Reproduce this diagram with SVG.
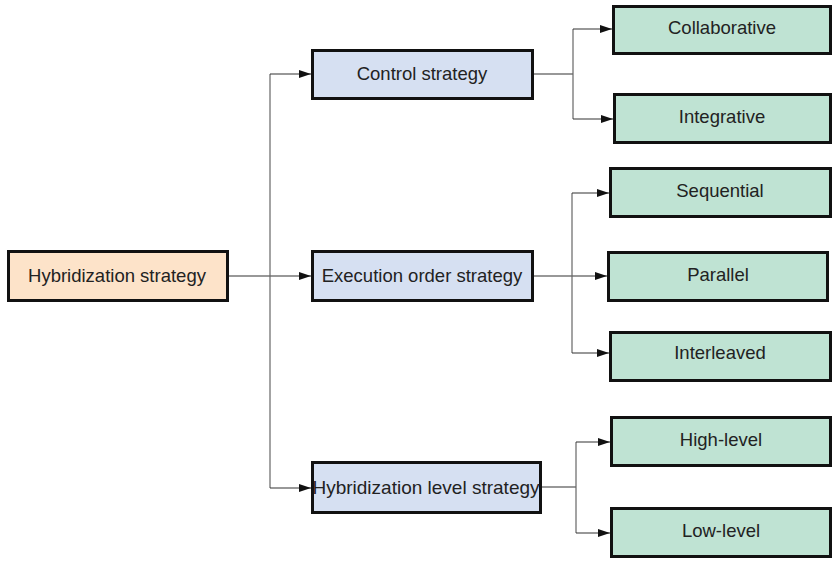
<svg xmlns="http://www.w3.org/2000/svg" width="834" height="561" viewBox="0 0 834 561">
  <defs>
    <marker id="arrow" viewBox="0 0 12 8" refX="12" refY="4" markerWidth="12" markerHeight="8" markerUnits="userSpaceOnUse" orient="auto">
      <path d="M0,0 L12,4 L0,8 Z" fill="#111"/>
    </marker>
    <style>
      .box { stroke: #111; stroke-width: 3; }
      .root { fill: #fde3c9; }
      .mid { fill: #d6e0f2; }
      .leaf { fill: #bfe3d3; }
      .label { font-family: "Liberation Sans", Arial, sans-serif; font-size: 18.5px; fill: #222; text-anchor: middle; }
      .wide { font-size: 19px; }
      .link { fill: none; stroke: #333; stroke-width: 1.2; }
      .trunk { fill: none; stroke: #666; stroke-width: 1.2; }
    </style>
  </defs>

  <rect width="834" height="561" fill="#ffffff"/>

  <!-- connectors -->
  <g id="connectors">
    <path class="link" d="M229,276 H311" marker-end="url(#arrow)"/>
    <path class="trunk" d="M270,74 V488"/>
    <path class="link" d="M270,74 H311" marker-end="url(#arrow)"/>
    <path class="link" d="M270,488 H311" marker-end="url(#arrow)"/>

    <path class="link" d="M534,74 H573"/>
    <path class="trunk" d="M573,29 V119"/>
    <path class="link" d="M573,29 H612" marker-end="url(#arrow)"/>
    <path class="link" d="M573,119 H613" marker-end="url(#arrow)"/>

    <path class="link" d="M534,276 H607" marker-end="url(#arrow)"/>
    <path class="trunk" d="M572,193 V353"/>
    <path class="link" d="M572,193 H609" marker-end="url(#arrow)"/>
    <path class="link" d="M572,353 H609" marker-end="url(#arrow)"/>

    <path class="link" d="M542,487 H576"/>
    <path class="trunk" d="M576,442 V533"/>
    <path class="link" d="M576,442 H610" marker-end="url(#arrow)"/>
    <path class="link" d="M576,533 H610" marker-end="url(#arrow)"/>
  </g>

  <!-- root node -->
  <g id="hybridization-strategy">
    <rect class="box root" x="8.5" y="251.5" width="219" height="49"/>
    <text class="label" x="117" y="282">Hybridization strategy</text>
  </g>

  <!-- strategy categories -->
  <g id="control-strategy">
    <rect class="box mid" x="312.5" y="50.5" width="220" height="48"/>
    <text class="label" x="422" y="80">Control strategy</text>
  </g>
  <g id="execution-order-strategy">
    <rect class="box mid" x="312.5" y="251.5" width="220" height="49"/>
    <text class="label" x="422" y="282">Execution order strategy</text>
  </g>
  <g id="hybridization-level-strategy">
    <rect class="box mid" x="312.5" y="462.5" width="228" height="50"/>
    <text class="label wide" x="426" y="494">Hybridization level strategy</text>
  </g>

  <!-- leaves -->
  <g id="collaborative">
    <rect class="box leaf" x="613.5" y="6.5" width="217" height="47"/>
    <text class="label" x="722" y="34">Collaborative</text>
  </g>
  <g id="integrative">
    <rect class="box leaf" x="614.5" y="94.5" width="216" height="48"/>
    <text class="label" x="722" y="123">Integrative</text>
  </g>
  <g id="sequential">
    <rect class="box leaf" x="610.5" y="168.5" width="220" height="48"/>
    <text class="label" x="720" y="197">Sequential</text>
  </g>
  <g id="parallel">
    <rect class="box leaf" x="608.5" y="252.5" width="219" height="48"/>
    <text class="label" x="718" y="281">Parallel</text>
  </g>
  <g id="interleaved">
    <rect class="box leaf" x="610.5" y="332.5" width="220" height="48"/>
    <text class="label" x="720" y="359">Interleaved</text>
  </g>
  <g id="high-level">
    <rect class="box leaf" x="611.5" y="417.5" width="219" height="48"/>
    <text class="label" x="721" y="446">High-level</text>
  </g>
  <g id="low-level">
    <rect class="box leaf" x="611.5" y="508.5" width="219" height="48"/>
    <text class="label" x="721" y="537">Low-level</text>
  </g>
</svg>
